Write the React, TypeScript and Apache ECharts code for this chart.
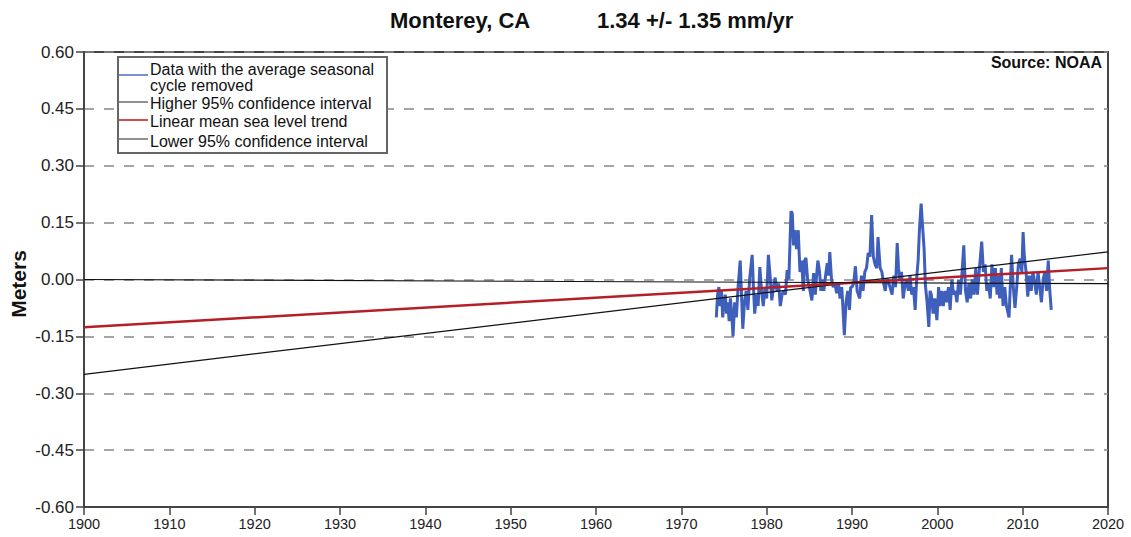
import React, { useEffect, useRef } from "react";
import * as echarts from "echarts";

const xTicks = [1900, 2020, 10];
const yTicks = [-0.6, 0.6, 0.15];

// [year, metres] monthly-ish mean sea level with seasonal cycle removed
const seaLevel: [number, number][] = [
  [1974.1, -0.1], [1974.25, -0.04], [1974.4, -0.02], [1974.55, -0.07], [1974.7, -0.03], [1974.85, -0.1],
  [1975.0, -0.06], [1975.15, -0.04], [1975.3, -0.09], [1975.45, -0.06], [1975.6, -0.11], [1975.75, -0.05],
  [1975.9, -0.09], [1976.06, -0.15], [1976.25, -0.06], [1976.45, -0.1], [1976.65, -0.02], [1976.9, 0.05],
  [1977.05, -0.04], [1977.2, -0.13], [1977.4, -0.06], [1977.6, -0.03], [1977.8, -0.08], [1978.0, 0.0],
  [1978.3, 0.065], [1978.45, -0.02], [1978.6, -0.09], [1978.8, -0.04], [1979.0, -0.07], [1979.2, 0.033],
  [1979.4, -0.03], [1979.6, -0.07], [1979.8, -0.02], [1980.0, -0.05], [1980.2, 0.065], [1980.4, 0.01],
  [1980.6, -0.055], [1980.8, -0.02], [1981.0, 0.005], [1981.2, -0.03], [1981.4, -0.01], [1981.6, -0.07],
  [1981.8, -0.04], [1982.0, -0.03], [1982.2, -0.04], [1982.4, 0.025], [1982.6, 0.0], [1982.85, 0.18],
  [1983.0, 0.175], [1983.15, 0.09], [1983.3, 0.13], [1983.5, 0.08], [1983.7, 0.13], [1983.9, 0.02],
  [1984.1, 0.05], [1984.3, -0.03], [1984.45, 0.05], [1984.6, 0.057], [1984.8, 0.0], [1985.0, -0.02],
  [1985.3, -0.055], [1985.5, 0.017], [1985.7, -0.04], [1985.85, 0.01], [1986.0, 0.05], [1986.2, 0.02],
  [1986.35, -0.03], [1986.5, 0.0], [1986.7, -0.03], [1986.9, 0.01], [1987.1, 0.043], [1987.25, 0.01],
  [1987.4, 0.072], [1987.6, 0.0], [1987.8, -0.02], [1988.0, -0.01], [1988.2, -0.036], [1988.4, -0.01],
  [1988.6, -0.05], [1988.8, -0.02], [1988.95, -0.08], [1989.1, -0.147], [1989.3, -0.06], [1989.5, -0.03],
  [1989.7, -0.08], [1989.85, -0.02], [1990.0, -0.02], [1990.2, -0.01], [1990.4, 0.035], [1990.6, -0.03],
  [1990.9, -0.05], [1991.1, 0.01], [1991.3, -0.03], [1991.5, 0.02], [1991.7, 0.03], [1991.9, 0.07],
  [1992.1, 0.06], [1992.3, 0.17], [1992.5, 0.06], [1992.7, 0.04], [1992.9, 0.03], [1993.05, 0.112],
  [1993.3, 0.03], [1993.5, 0.02], [1993.7, -0.01], [1993.9, -0.03], [1994.05, 0.0], [1994.2, 0.0],
  [1994.45, -0.02], [1994.7, -0.04], [1994.9, 0.01], [1995.1, -0.02], [1995.3, 0.096], [1995.45, 0.03],
  [1995.6, 0.0], [1995.8, 0.02], [1996.0, -0.05], [1996.2, -0.015], [1996.4, 0.0], [1996.6, -0.03],
  [1996.8, 0.01], [1997.0, -0.04], [1997.2, -0.02], [1997.4, -0.08], [1997.6, 0.01], [1997.75, 0.05],
  [1997.9, 0.13], [1998.1, 0.2], [1998.3, 0.13], [1998.45, 0.08], [1998.6, -0.015], [1998.8, -0.06],
  [1999.0, -0.125], [1999.15, -0.03], [1999.3, -0.04], [1999.5, -0.09], [1999.7, -0.05], [1999.95, -0.107],
  [2000.15, -0.02], [2000.3, -0.07], [2000.5, -0.03], [2000.7, -0.07], [2000.9, -0.03], [2001.1, -0.06],
  [2001.3, -0.02], [2001.5, -0.08], [2001.7, 0.0], [2001.9, -0.04], [2002.1, -0.03], [2002.3, -0.06],
  [2002.5, 0.0], [2002.7, -0.04], [2002.9, 0.02], [2003.1, 0.09], [2003.3, -0.03], [2003.5, -0.06],
  [2003.7, -0.01], [2003.9, -0.05], [2004.1, 0.0], [2004.3, -0.04], [2004.5, 0.03], [2004.7, -0.04],
  [2004.9, 0.02], [2005.2, 0.1], [2005.4, 0.02], [2005.6, 0.04], [2005.8, -0.03], [2006.0, -0.01],
  [2006.2, -0.05], [2006.4, 0.04], [2006.6, -0.02], [2006.8, 0.03], [2007.0, -0.04], [2007.15, 0.01],
  [2007.3, -0.05], [2007.5, 0.03], [2007.7, -0.07], [2007.9, -0.02], [2008.1, -0.07], [2008.4, -0.1],
  [2008.7, 0.065], [2008.9, -0.02], [2009.1, -0.075], [2009.3, -0.02], [2009.5, 0.04], [2009.7, 0.055],
  [2009.9, 0.02], [2010.05, 0.125], [2010.2, 0.06], [2010.4, 0.02], [2010.6, -0.045], [2010.8, 0.01],
  [2011.0, -0.03], [2011.2, 0.02], [2011.4, -0.005], [2011.6, -0.04], [2011.8, 0.02], [2012.0, -0.02],
  [2012.2, -0.06], [2012.4, 0.0], [2012.6, 0.02], [2012.8, -0.03], [2013.0, 0.05], [2013.15, -0.02],
  [2013.35, -0.08],
];

const lineYears = [1900, 2020];
const upperValues = [-0.25, 0.073];
const trendValues = [-0.126, 0.03];
const lowerValues = [0.0, -0.011];

const FONT = "'Liberation Sans', Arial, sans-serif";

export default function App() {
  const ref = useRef<HTMLDivElement>(null);
  useEffect(() => {
    if (!ref.current) return;
    const chart = echarts.init(ref.current, undefined, { renderer: "svg" });
    const pairs = (xs: number[], ys: number[]) => xs.map((x, i) => [x, ys[i]]);
    const legendItems = [
      { y: 75, color: "#7b8fd6", w: 2, text: "Data with the average seasonal\ncycle removed", ty: 61 },
      { y: 102, color: "#222", w: 1, text: "Higher 95% confidence interval", ty: 95 },
      { y: 120, color: "#d05050", w: 2, text: "Linear mean sea level trend", ty: 113 },
      { y: 139, color: "#222", w: 1, text: "Lower 95% confidence interval", ty: 133 },
    ];
    const graphic: any[] = [
      {
        type: "text",
        x: 390,
        y: 20,
        style: { text: "Monterey, CA", font: `bold 22px ${FONT}`, fill: "#111", verticalAlign: "middle" },
      },
      {
        type: "text",
        x: 597,
        y: 20,
        style: { text: "1.34 +/- 1.35 mm/yr", font: `bold 22px ${FONT}`, fill: "#111", verticalAlign: "middle" },
      },
      {
        type: "text",
        x: 18,
        y: 284,
        rotation: Math.PI / 2,
        style: {
          text: "Meters",
          font: `bold 21px ${FONT}`,
          fill: "#111",
          align: "center",
          verticalAlign: "middle",
        },
      },
      {
        type: "text",
        x: 1102,
        y: 62,
        style: {
          text: "Source: NOAA",
          font: `bold 16px ${FONT}`,
          fill: "#111",
          align: "right",
          verticalAlign: "middle",
        },
      },
      {
        type: "rect",
        shape: { x: 118, y: 57, width: 269, height: 96 },
        style: { fill: "#fff", stroke: "#666", lineWidth: 2 },
        z: 10,
      },
    ];
    legendItems.forEach((it) => {
      graphic.push({
        type: "line",
        shape: { x1: 119, y1: it.y, x2: 148, y2: it.y },
        style: { stroke: it.color, lineWidth: it.w },
        z: 11,
      });
      graphic.push({
        type: "text",
        x: 150,
        y: it.ty,
        style: {
          text: it.text,
          font: `16px ${FONT}`,
          fill: "#111",
          lineHeight: 16,
        },
        z: 11,
      });
    });

    chart.setOption({
      animation: false,
      backgroundColor: "#fff",
      grid: {
        left: 84,
        right: 23,
        top: 52,
        bottom: 30,
        show: true,
        borderColor: "#444",
        borderWidth: 2,
      },
      xAxis: {
        type: "value",
        min: xTicks[0],
        max: xTicks[1],
        interval: xTicks[2],
        axisLine: { show: true, onZero: false, lineStyle: { color: "#444", width: 2 } },
        axisTick: { show: true, length: 8, lineStyle: { color: "#444", width: 1.5 } },
        axisLabel: {
          color: "#222",
          fontFamily: FONT,
          fontSize: 14.5,
          margin: 9,
          formatter: (v: number) => String(Math.round(v)),
        },
        splitLine: { show: false },
      },
      yAxis: {
        type: "value",
        min: yTicks[0],
        max: yTicks[1],
        interval: yTicks[2],
        axisLine: { show: true, onZero: false, lineStyle: { color: "#444", width: 2 } },
        axisTick: { show: true, length: 8, lineStyle: { color: "#444", width: 1.5 } },
        axisLabel: {
          color: "#222",
          fontFamily: FONT,
          fontSize: 17,
          margin: 10,
          formatter: (v: number) => (Math.abs(v) < 1e-9 ? "0.00" : v.toFixed(2)),
        },
        splitLine: { show: true, lineStyle: { color: "#888", type: [10, 10], width: 1.5 } },
      },
      series: [
        {
          type: "line",
          name: "Data with the average seasonal cycle removed",
          data: seaLevel,
          showSymbol: false,
          lineStyle: { color: "#3f5fbd", width: 3 },
          z: 2,
        },
        {
          type: "line",
          name: "Higher 95% confidence interval",
          data: pairs(lineYears, upperValues),
          showSymbol: false,
          lineStyle: { color: "#111", width: 1.2 },
          z: 3,
        },
        {
          type: "line",
          name: "Linear mean sea level trend",
          data: pairs(lineYears, trendValues),
          showSymbol: false,
          lineStyle: { color: "#b51f27", width: 2.5 },
          z: 3,
        },
        {
          type: "line",
          name: "Lower 95% confidence interval",
          data: pairs(lineYears, lowerValues),
          showSymbol: false,
          lineStyle: { color: "#111", width: 1.2 },
          z: 3,
        },
      ],
      graphic,
    });
    return () => chart.dispose();
  }, []);
  return (
    <div
      ref={ref}
      style={{ position: "fixed", left: 0, top: 0, width: 1131, height: 537, background: "#fff" }}
    />
  );
}
